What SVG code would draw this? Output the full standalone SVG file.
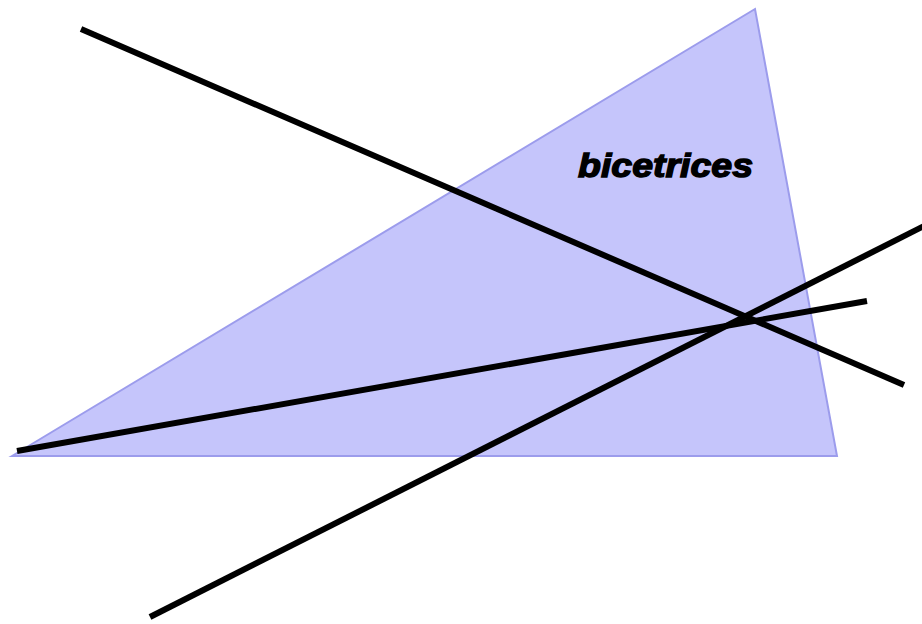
<svg xmlns="http://www.w3.org/2000/svg" width="922" height="624" viewBox="0 0 922 624">
<style>
.tri{fill:#c5c5fb;stroke:#9c9cec;stroke-width:2;stroke-linejoin:miter}
.ln{stroke:#000;stroke-width:6;stroke-linecap:butt;fill:none}
.lbl{font-family:"Liberation Sans",Arial,sans-serif;font-weight:bold;font-style:italic;font-size:34px;fill:#000;stroke:#000;stroke-width:1.4}
</style>
<rect width="922" height="624" fill="#fff"/>
<g id="triangle">
<polygon class="tri" points="12,456 755,9 837,456"/>
</g>
<g id="connectors">
<line class="ln" x1="81" y1="29" x2="904" y2="385"/>
<line class="ln" x1="17" y1="451" x2="867" y2="301"/>
<line class="ln" x1="150" y1="617" x2="924" y2="226"/>
</g>
<g id="label">
<text class="lbl" x="578" y="177" textLength="175" lengthAdjust="spacingAndGlyphs">bicetrices</text>
</g>
</svg>
